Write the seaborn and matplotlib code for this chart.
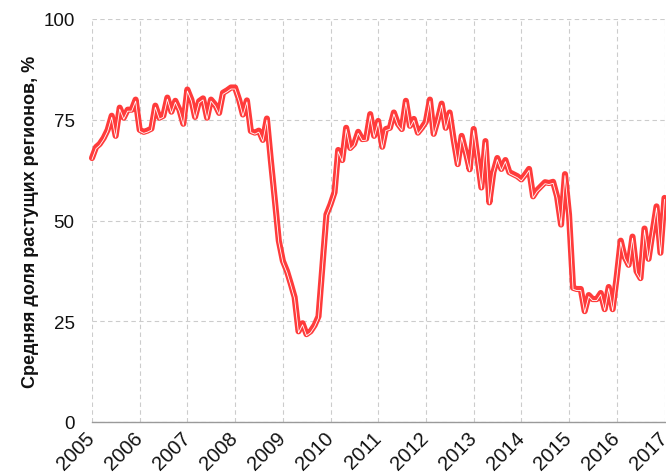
import numpy as np
import pandas as pd
import matplotlib
matplotlib.use("Agg")
import matplotlib.pyplot as plt
import matplotlib.dates as mdates
from matplotlib.transforms import offset_copy
import seaborn as sns

# ---- data (monthly, Jan 2005 .. Jan 2017) ----
start_month = "2005-01-01"
share_2005 = [65.5, 68.2, 69.0, 70.5, 72.5, 76.0, 71.0, 78.0, 75.5, 77.5, 77.5, 80.0]
share_2006 = [72.5, 72.0, 72.3, 72.8, 78.5, 75.5, 76.0, 80.5, 77.0, 79.7, 77.5, 74.0]
share_2007 = [82.5, 80.0, 75.7, 79.6, 80.3, 75.5, 80.0, 78.8, 76.7, 81.7, 82.3, 83.0]
share_2008 = [83.0, 80.0, 76.3, 79.8, 72.2, 71.8, 72.3, 70.0, 75.3, 65.0, 55.0, 45.0]
share_2009 = [40.0, 37.5, 34.5, 31.0, 22.5, 24.5, 21.8, 22.5, 24.0, 26.2, 39.0, 51.5]
share_2010 = [54.0, 57.0, 67.5, 65.0, 73.0, 68.0, 69.0, 72.0, 70.2, 70.3, 76.4, 71.0]
share_2011 = [74.7, 68.3, 72.7, 73.0, 76.8, 74.0, 72.7, 79.7, 73.5, 75.2, 71.8, 73.0]
share_2012 = [74.5, 80.0, 71.5, 75.0, 79.0, 73.0, 76.8, 70.0, 64.0, 71.0, 67.0, 62.7]
share_2013 = [72.7, 65.0, 58.2, 69.7, 54.5, 62.0, 65.5, 62.8, 65.0, 62.0, 61.5, 61.0]
share_2014 = [60.2, 61.5, 62.8, 56.0, 57.5, 58.5, 59.5, 59.3, 59.6, 56.0, 49.0, 61.5]
share_2015 = [51.5, 33.3, 33.0, 33.0, 27.5, 31.5, 30.5, 30.5, 32.0, 28.0, 33.5, 28.0]
share_2016 = [36.0, 45.0, 41.0, 39.0, 46.0, 37.4, 35.7, 48.0, 40.5, 47.0, 53.5, 42.0]
share_2017 = [55.6]

y_ticks = [0, 25, 50, 75, 100]
y_label = "Средняя доля растущих регионов, %"

values = (share_2005 + share_2006 + share_2007 + share_2008 + share_2009 +
          share_2010 + share_2011 + share_2012 + share_2013 + share_2014 +
          share_2015 + share_2016 + share_2017)
dates = pd.date_range(start_month, periods=len(values), freq="MS")
df = pd.DataFrame({"date": dates, "share": values})

# ---- style ----
sns.set_style("white")
plt.rcParams["font.family"] = ["Liberation Sans", "DejaVu Sans"]
plt.rcParams["text.color"] = "#111111"
plt.rcParams["axes.labelcolor"] = "#111111"
plt.rcParams["xtick.labelcolor"] = "#111111"
plt.rcParams["ytick.labelcolor"] = "#111111"

fig = plt.figure(figsize=(6.66, 4.77), dpi=100)
ax = fig.add_axes([92 / 666, 1 - 423 / 477, (664.5 - 92) / 666, (423 - 20) / 477])

red = "#ff3b3b"
sns.lineplot(data=df, x="date", y="share", ax=ax, color=red, lw=4.4,
             solid_joinstyle="round", solid_capstyle="round", clip_on=False, zorder=3)
sns.lineplot(data=df, x="date", y="share", ax=ax, color="white", lw=0.6,
             clip_on=False, zorder=4)
ax.lines[-1].set_transform(offset_copy(ax.transData, fig=fig, x=0, y=-1.5, units="dots"))

ax.set_ylim(0, 100)
ax.set_xlim(pd.Timestamp("2005-01-01"), pd.Timestamp("2017-01-01"))
ax.set_yticks(y_ticks)
ax.set_yticklabels([str(t) for t in y_ticks])

ax.xaxis.set_major_locator(mdates.YearLocator())
ax.xaxis.set_major_formatter(mdates.DateFormatter("%Y"))
ax.xaxis.set_minor_locator(mdates.MonthLocator())

ax.grid(True, which="major", color="#cccccc", linestyle=(0, (4, 3)), lw=0.8)
ax.set_axisbelow(True)

for s in ["top", "right", "left"]:
    ax.spines[s].set_visible(False)
ax.spines["bottom"].set_color("#9a9a9a")
ax.spines["bottom"].set_linewidth(1.0)

ax.tick_params(axis="x", which="major", direction="out", length=6, width=0.9,
               color="#9a9a9a", labelsize=14.5, pad=3)
ax.tick_params(axis="x", which="minor", direction="in", length=3, width=0.6,
               color="#b0b0b0")
ax.tick_params(axis="y", which="major", length=0, labelsize=13.5, pad=12.5)
for lbl in ax.get_xticklabels():
    lbl.set_rotation(45)
    lbl.set_ha("right")
    lbl.set_va("center")
    lbl.set_rotation_mode("anchor")

ax.set_xlabel("")
ax.set_ylabel(y_label, fontsize=13, fontweight="bold", labelpad=3)

fig.savefig("out.png", dpi=100)
